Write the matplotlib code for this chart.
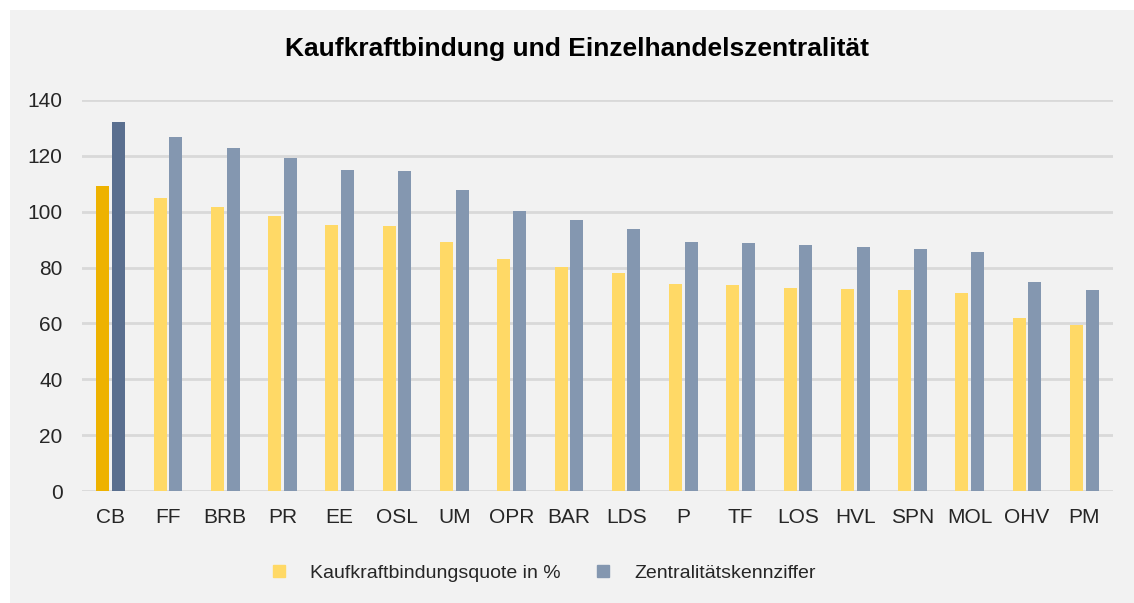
import matplotlib
matplotlib.use("Agg")
import matplotlib.pyplot as plt
from matplotlib.lines import Line2D
import numpy as np

# Landkreise / kreisfreie Staedte
kreise = ['CB', 'FF', 'BRB', 'PR', 'EE', 'OSL', 'UM', 'OPR', 'BAR', 'LDS',
          'P', 'TF', 'LOS', 'HVL', 'SPN', 'MOL', 'OHV', 'PM']
bindungsquote = [109.2, 104.9, 101.7, 98.6, 95.3, 94.8, 89.3, 83.0, 80.1, 77.9,
                 74.1, 73.6, 72.8, 72.2, 71.9, 70.9, 62.0, 59.3]
zentralitaet = [132.0, 126.9, 122.8, 119.2, 115.0, 114.6, 107.7, 100.4, 97.1, 93.9,
                89.3, 88.8, 88.0, 87.5, 86.5, 85.6, 74.9, 71.9]
y_ticks = [0, 20, 40, 60, 80, 100, 120, 140]
labels = ['Kaufkraftbindungsquote in %', 'Zentralitätskennziffer']

bg = '#F2F2F2'
gelb, gelb_hl = '#FFD966', '#EEB200'
blau, blau_hl = '#8497B0', '#5A6F8F'
plt.rcParams['font.family'] = ['Liberation Sans', 'DejaVu Sans']

fig = plt.figure(figsize=(11.34, 6.03), dpi=100)
fig.patch.set_facecolor('white')
# grauer Hintergrund mit schmalem weissen Rand oben/links
fig.patches.append(plt.Rectangle((10 / 1134, 0), 1, 1 - 10 / 603, transform=fig.transFigure,
                                 facecolor=bg, edgecolor='none', zorder=-1))

ax = fig.add_axes([0.0723, 0.1857, 0.9092, 0.6485])
ax.set_facecolor(bg)

x = np.arange(len(kreise))
w = 0.227
off = 0.137
farben1 = [gelb_hl] + [gelb] * (len(kreise) - 1)
farben2 = [blau_hl] + [blau] * (len(kreise) - 1)
ax.bar(x - off, bindungsquote, width=w, color=farben1, zorder=3)
ax.bar(x + off, zentralitaet, width=w, color=farben2, zorder=3)

ax.set_xlim(-0.5, len(kreise) - 0.5)
ax.set_ylim(0, 140)
ax.set_yticks(y_ticks)
ax.set_xticks(x)
ax.set_xticklabels(kreise)
ax.tick_params(length=0, labelsize=15, colors='#262626')
ax.tick_params(axis='y', pad=14)
ax.tick_params(axis='x', pad=12)
for t in y_ticks:
    ax.axhline(t, color='#D9D9D9', linewidth=2, zorder=1)
for s in ax.spines.values():
    s.set_visible(False)

fig.text(0.509, 0.918, 'Kaufkraftbindung und Einzelhandelszentralität', ha='center', va='center',
         fontsize=19, fontweight='bold', color='black')

handles = [Line2D([], [], marker='s', linestyle='none', markersize=8, color=gelb),
           Line2D([], [], marker='s', linestyle='none', markersize=8, color=blau)]
fig.legend(handles, labels, loc='center', bbox_to_anchor=(0.474, 0.05), ncol=2, frameon=False,
           fontsize=14, handletextpad=0.6, columnspacing=1.2, labelcolor='#262626')

fig.savefig('out.png', dpi=100, facecolor=fig.get_facecolor())
